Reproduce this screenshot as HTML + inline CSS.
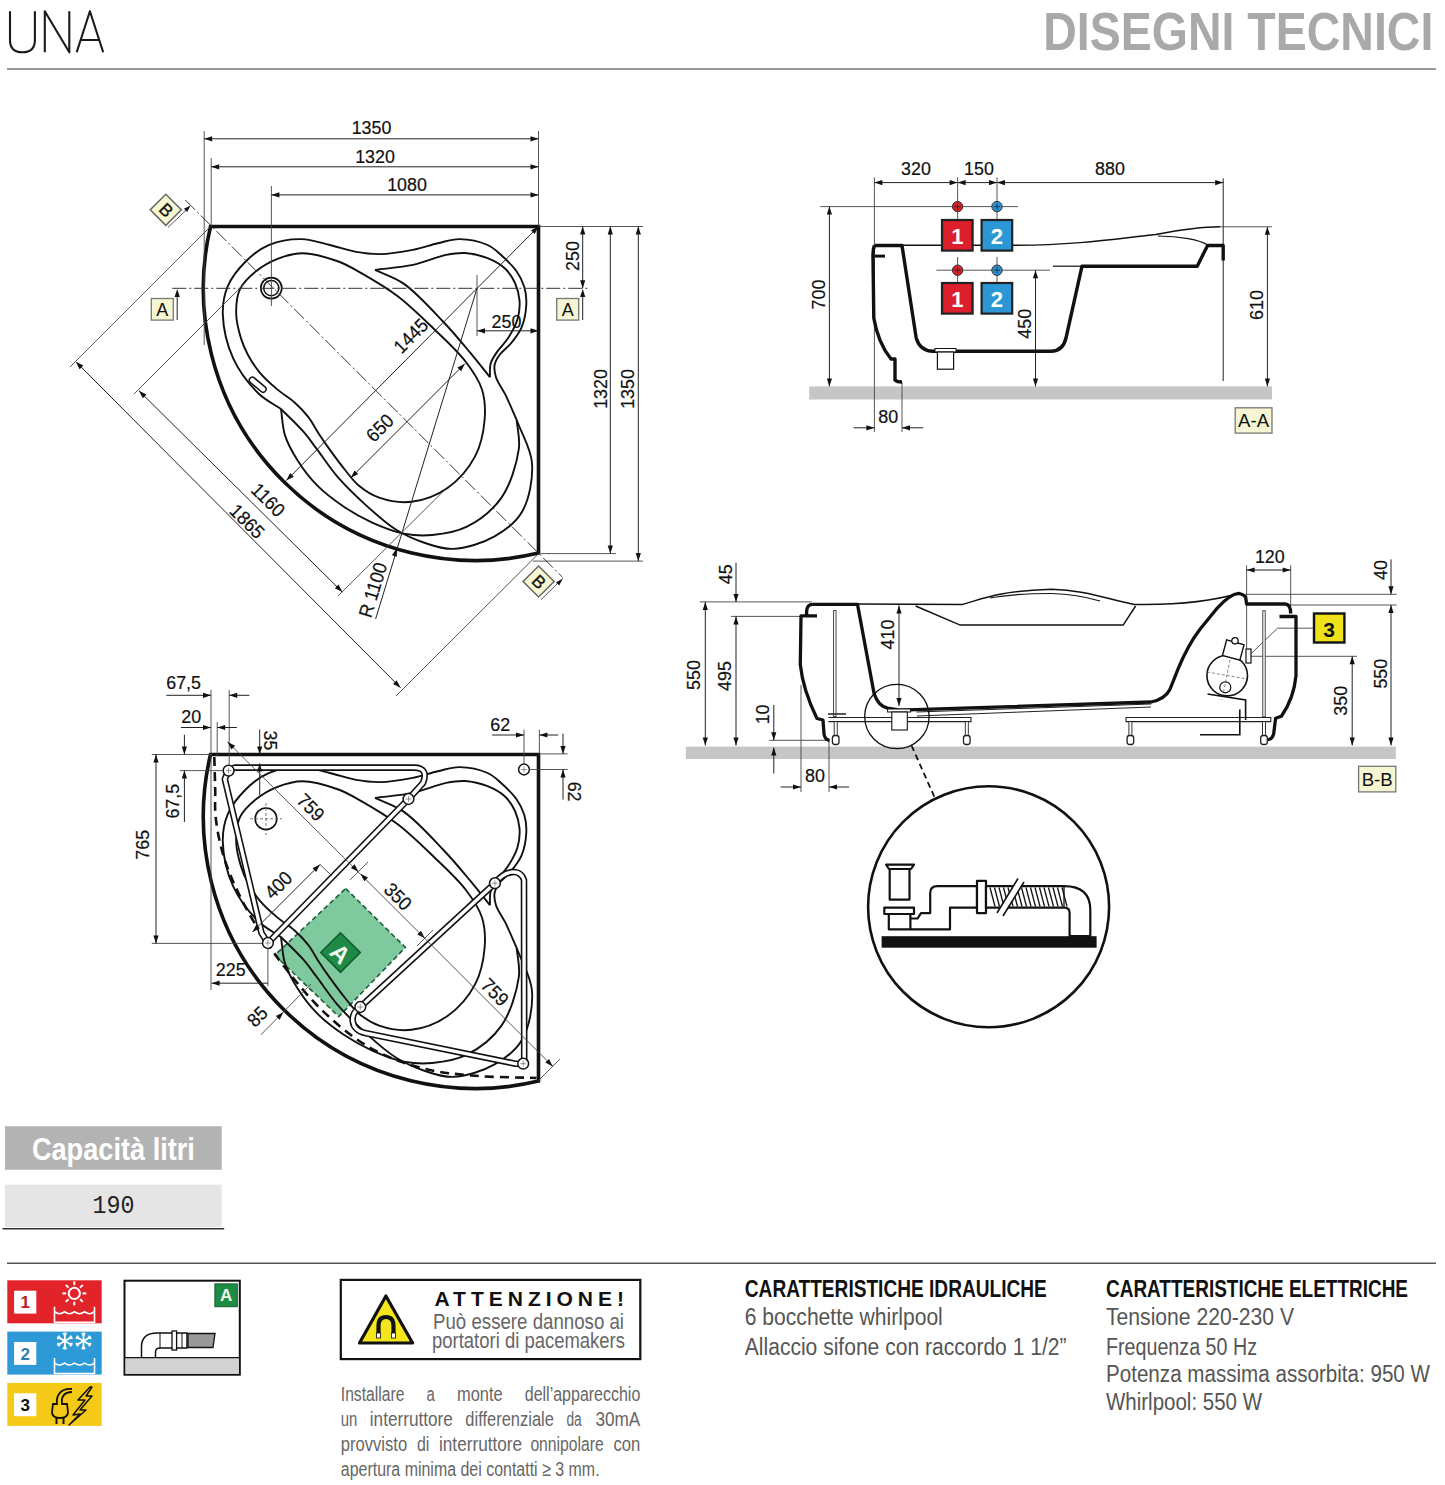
<!DOCTYPE html><html><head><meta charset="utf-8"><style>html,body{margin:0;padding:0;background:#fff;width:1445px;height:1485px;overflow:hidden;position:relative}</style></head><body><svg width="1445" height="1485" viewBox="0 0 1445 1485" style="position:absolute;left:0;top:0">
<rect width="1445" height="1485" fill="#fff"/>
<path d="M10,11.2 L10,40 Q10,52.3 22.45,52.3 Q34.9,52.3 34.9,40 L34.9,11.2 M44.8,52.3 L44.8,11.2 L69.3,52.3 L69.3,11.2 M76.7,52.3 L89.9,11.2 L103.2,52.3 M80.6,40 L99.3,40" fill="none" stroke="#1a1a1a" stroke-width="2.1" stroke-linejoin="round"/>
<text x="1433.3" y="31.3" font-family="Liberation Sans" font-size="54" fill="#a9a9a9" font-weight="bold" text-anchor="end" dominant-baseline="central" textLength="390" lengthAdjust="spacingAndGlyphs" >DISEGNI TECNICI</text>
<line x1="7.0" y1="69.0" x2="1436.0" y2="69.0" stroke="#777" stroke-width="1.6" />
<path d="M538.5,226.5 L210.5,226.5 A272.0,272.0 0 0 0 538.5,553.1 Z" fill="none" stroke="#111" stroke-width="3.6" stroke-linejoin="miter"/>
<path d="M516.7,420.0 C512.9,411.6 509.1,402.3 505.4,394.7 C502.2,388.3 497.7,382.7 496.0,377.2 C494.7,372.9 493.9,368.8 494.6,365.0 C495.3,361.2 497.5,357.7 500.0,354.3 C502.8,350.5 507.4,347.7 510.8,343.5 C514.6,338.8 519.0,333.4 521.6,327.3 C524.4,320.6 526.0,311.6 526.3,304.5 C526.6,298.3 526.0,292.6 524.3,287.0 C522.6,281.3 519.9,276.0 516.2,270.8 C512.0,264.9 505.2,258.6 500.0,254.0 C495.8,250.3 492.9,247.3 487.6,245.0 C480.4,241.8 468.2,239.2 459.4,239.1 C451.7,239.0 445.2,241.6 437.8,243.3 C429.8,245.1 421.9,248.2 412.9,249.9 C402.7,251.9 390.0,254.0 379.7,254.1 C370.8,254.2 363.0,253.1 354.8,251.6 C346.4,250.1 338.4,247.0 329.8,245.0 C320.7,242.9 311.3,239.2 301.6,239.1 C291.2,238.9 278.7,240.9 269.2,244.9 C260.3,248.6 252.5,254.7 245.7,261.5 C238.6,268.5 231.5,277.4 227.7,286.4 C224.1,295.0 222.5,303.8 222.8,314.1 C223.2,327.2 227.1,345.0 233.2,358.4 C239.2,371.5 249.8,385.0 258.8,393.8 C265.9,400.7 273.6,403.9 281.0,409.0" fill="none" stroke="#111" stroke-width="1.9" />
<path d="M281.0,409.0 C288.3,416.4 296.7,424.0 303.0,431.2 C308.4,437.3 311.8,442.5 316.9,449.2 C323.1,457.4 329.8,467.9 337.6,476.9 C345.9,486.4 355.6,495.8 365.3,504.6 C375.0,513.4 385.3,522.9 395.8,529.5 C405.3,535.4 415.2,539.7 425.0,543.0 C434.3,546.1 442.8,549.3 453.0,548.9 C465.6,548.4 482.8,543.1 494.6,536.4 C505.5,530.2 516.0,522.5 522.2,511.5 C529.4,498.9 533.1,478.5 532.0,463.0 C530.9,448.1 521.8,434.3 516.7,420.0" fill="none" stroke="#111" stroke-width="1.9" />
<path d="M281.0,409.0 C282.3,417.8 282.3,426.9 285.0,435.4 C287.7,444.0 292.4,452.2 297.5,460.3 C302.9,468.9 309.3,477.6 316.9,485.2 C324.9,493.3 335.1,500.9 344.6,507.3 C353.6,513.3 362.5,518.3 372.2,522.6 C382.2,527.1 393.6,531.6 404.0,533.6 C413.6,535.5 422.5,535.9 432.3,535.0 C443.3,534.0 456.0,532.2 466.9,526.7 C479.2,520.5 492.9,509.9 501.5,497.6 C510.6,484.5 516.8,463.5 518.8,449.2 C520.3,438.4 517.4,429.7 516.7,420.0" fill="none" stroke="#111" stroke-width="1.9" />
<path d="M375.0,269.9 C387.6,268.2 400.8,267.5 412.9,264.9 C424.4,262.4 436.5,256.8 446.1,254.9 C453.2,253.5 458.5,252.6 465.0,253.0 C472.2,253.5 480.8,255.5 487.6,258.2 C494.0,260.8 500.4,264.2 505.0,268.5 C509.3,272.5 512.6,277.7 515.0,283.0 C517.4,288.3 519.1,294.4 519.5,300.4 C520.0,306.5 519.3,313.2 517.5,319.3 C515.6,325.8 511.7,332.5 508.1,338.1 C504.9,343.2 500.3,347.1 497.3,351.6 C494.6,355.6 491.8,359.4 490.6,363.7 C489.4,367.9 490.1,372.7 489.9,377.2" fill="none" stroke="#111" stroke-width="1.9" />
<path d="M489.9,377.2 C483.4,369.1 477.5,361.4 470.4,352.9 C462.2,343.1 453.6,332.6 443.5,322.0 C431.7,309.6 416.5,292.5 403.6,283.6 C393.8,276.8 384.5,274.5 375.0,269.9" fill="none" stroke="#111" stroke-width="1.9" />
<path d="M302.4,253.2 C313.3,253.2 328.1,257.8 338.4,261.5 C346.7,264.5 351.9,267.8 360.0,272.4 C370.9,278.6 385.3,286.8 397.4,296.0 C410.3,305.8 423.0,318.4 434.7,329.7 C445.8,340.4 457.7,351.2 465.9,362.0 C472.8,371.1 478.9,379.7 482.0,389.5 C485.0,399.1 485.5,409.5 484.6,420.0 C483.6,431.6 481.0,445.1 475.2,456.1 C469.0,467.9 458.4,480.3 447.5,488.0 C437.1,495.3 423.4,500.4 411.5,501.8 C400.6,503.1 388.5,500.8 379.2,497.6 C371.2,494.8 364.2,490.1 358.4,485.2 C353.1,480.7 349.6,475.6 345.1,470.0 C339.9,463.6 333.9,455.4 329.2,448.9 C325.3,443.5 322.2,438.9 318.8,433.7 C315.3,428.3 312.4,422.3 308.4,417.1 C304.3,411.9 299.7,407.0 294.6,402.5 C289.3,397.8 282.9,394.2 277.3,389.4 C271.4,384.4 265.0,378.7 260.0,372.8 C255.3,367.2 251.2,361.0 248.0,355.0 C245.0,349.5 242.9,344.6 241.0,338.4 C238.8,331.2 236.4,322.3 236.2,314.2 C236.0,306.0 236.6,296.4 240.0,289.2 C243.3,282.1 249.8,276.2 256.0,271.2 C262.3,266.1 269.8,261.8 277.5,258.8 C285.3,255.8 293.3,253.2 302.4,253.2Z" fill="none" stroke="#111" stroke-width="1.9" />
<circle cx="271.3" cy="288.1" r="10.5" fill="#fff" stroke="#111" stroke-width="1.7"/>
<circle cx="271.3" cy="288.1" r="7.6" fill="none" stroke="#111" stroke-width="1.5"/>
<rect x="-10" y="-3" width="20" height="6" rx="3" fill="none" stroke="#111" stroke-width="1.5" transform="translate(257.7,384.7) rotate(40)"/>
<line x1="204.2" y1="131.0" x2="204.2" y2="345.0" stroke="#444" stroke-width="0.9" />
<line x1="211.2" y1="158.0" x2="211.2" y2="226.0" stroke="#444" stroke-width="0.9" />
<line x1="271.4" y1="186.0" x2="271.4" y2="306.0" stroke="#444" stroke-width="0.9" />
<line x1="538.5" y1="131.0" x2="538.5" y2="226.0" stroke="#444" stroke-width="0.9" />
<line x1="204.2" y1="138.8" x2="538.5" y2="138.8" stroke="#222" stroke-width="1.0" />
<path d="M204.2,138.8 L212.2,136.2 L212.2,141.4Z" fill="#111"/>
<path d="M538.5,138.8 L530.5,141.4 L530.5,136.2Z" fill="#111"/>
<line x1="211.2" y1="166.8" x2="538.5" y2="166.8" stroke="#222" stroke-width="1.0" />
<path d="M211.2,166.8 L219.2,164.2 L219.2,169.4Z" fill="#111"/>
<path d="M538.5,166.8 L530.5,169.4 L530.5,164.2Z" fill="#111"/>
<line x1="271.4" y1="194.9" x2="538.5" y2="194.9" stroke="#222" stroke-width="1.0" />
<path d="M271.4,194.9 L279.4,192.3 L279.4,197.5Z" fill="#111"/>
<path d="M538.5,194.9 L530.5,197.5 L530.5,192.3Z" fill="#111"/>
<text x="371.5" y="127.5" font-family="Liberation Sans" font-size="19.2" fill="#111" font-weight="normal" text-anchor="middle" dominant-baseline="central" textLength="39.7" lengthAdjust="spacingAndGlyphs" stroke="#111" stroke-width="0.2">1350</text>
<text x="375.0" y="156.0" font-family="Liberation Sans" font-size="19.2" fill="#111" font-weight="normal" text-anchor="middle" dominant-baseline="central" textLength="39.7" lengthAdjust="spacingAndGlyphs" stroke="#111" stroke-width="0.2">1320</text>
<text x="407.0" y="184.0" font-family="Liberation Sans" font-size="19.2" fill="#111" font-weight="normal" text-anchor="middle" dominant-baseline="central" textLength="39.7" lengthAdjust="spacingAndGlyphs" stroke="#111" stroke-width="0.2">1080</text>
<line x1="538.5" y1="226.5" x2="643.0" y2="226.5" stroke="#444" stroke-width="0.9" />
<line x1="538.5" y1="553.6" x2="616.0" y2="553.6" stroke="#444" stroke-width="0.9" />
<line x1="533.0" y1="561.1" x2="643.0" y2="561.1" stroke="#444" stroke-width="0.9" />
<line x1="582.7" y1="226.5" x2="582.7" y2="288.3" stroke="#222" stroke-width="1.0" />
<path d="M582.7,226.5 L585.3,234.5 L580.1,234.5Z" fill="#111"/>
<path d="M582.7,288.3 L580.1,280.3 L585.3,280.3Z" fill="#111"/>
<line x1="610.3" y1="226.5" x2="610.3" y2="553.6" stroke="#222" stroke-width="1.0" />
<path d="M610.3,226.5 L612.9,234.5 L607.7,234.5Z" fill="#111"/>
<path d="M610.3,553.6 L607.7,545.6 L612.9,545.6Z" fill="#111"/>
<line x1="638.3" y1="226.5" x2="638.3" y2="561.1" stroke="#222" stroke-width="1.0" />
<path d="M638.3,226.5 L640.9,234.5 L635.7,234.5Z" fill="#111"/>
<path d="M638.3,561.1 L635.7,553.1 L640.9,553.1Z" fill="#111"/>
<text x="572.0" y="256.0" font-family="Liberation Sans" font-size="19.2" fill="#111" font-weight="normal" text-anchor="middle" dominant-baseline="central" transform="rotate(-90 572.0 256.0)" textLength="29.8" lengthAdjust="spacingAndGlyphs" stroke="#111" stroke-width="0.2">250</text>
<text x="600.0" y="389.0" font-family="Liberation Sans" font-size="19.2" fill="#111" font-weight="normal" text-anchor="middle" dominant-baseline="central" transform="rotate(-90 600.0 389.0)" textLength="39.7" lengthAdjust="spacingAndGlyphs" stroke="#111" stroke-width="0.2">1320</text>
<text x="627.0" y="389.0" font-family="Liberation Sans" font-size="19.2" fill="#111" font-weight="normal" text-anchor="middle" dominant-baseline="central" transform="rotate(-90 627.0 389.0)" textLength="39.7" lengthAdjust="spacingAndGlyphs" stroke="#111" stroke-width="0.2">1350</text>
<line x1="172.3" y1="288.3" x2="588.0" y2="288.3" stroke="#333" stroke-width="1.0" stroke-dasharray="14 3 2 3"/>
<rect x="151.3" y="298.5" width="22" height="21.6" fill="#f6f6d2" stroke="#777" stroke-width="1.3"/>
<text x="162.3" y="310.0" font-family="Liberation Sans" font-size="18" fill="#111" font-weight="normal" text-anchor="middle" dominant-baseline="central" >A</text>
<line x1="177.2" y1="320.0" x2="177.2" y2="296.0" stroke="#222" stroke-width="1.0" />
<path d="M177.2,289.0 L179.8,297.0 L174.6,297.0Z" fill="#111"/>
<rect x="556.7" y="298.5" width="22" height="21.6" fill="#f6f6d2" stroke="#777" stroke-width="1.3"/>
<text x="567.7" y="310.0" font-family="Liberation Sans" font-size="18" fill="#111" font-weight="normal" text-anchor="middle" dominant-baseline="central" >A</text>
<line x1="582.7" y1="320.0" x2="582.7" y2="296.0" stroke="#222" stroke-width="1.0" />
<path d="M582.7,289.0 L585.3,297.0 L580.1,297.0Z" fill="#111"/>
<line x1="477.0" y1="275.0" x2="477.0" y2="336.0" stroke="#444" stroke-width="0.9" />
<line x1="477.0" y1="330.8" x2="538.5" y2="330.8" stroke="#222" stroke-width="1.0" />
<path d="M477.0,330.8 L485.0,328.2 L485.0,333.4Z" fill="#111"/>
<path d="M538.5,330.8 L530.5,333.4 L530.5,328.2Z" fill="#111"/>
<text x="506.5" y="321.0" font-family="Liberation Sans" font-size="19.2" fill="#111" font-weight="normal" text-anchor="middle" dominant-baseline="central" textLength="29.8" lengthAdjust="spacingAndGlyphs" stroke="#111" stroke-width="0.2">250</text>
<line x1="286.3" y1="480.5" x2="538.5" y2="226.5" stroke="#222" stroke-width="1.0" />
<path d="M538.5,226.5 L534.7,234.0 L531.0,230.3Z" fill="#111"/>
<path d="M286.3,480.5 L290.1,473.0 L293.8,476.7Z" fill="#111"/>
<text x="411.0" y="336.0" font-family="Liberation Sans" font-size="19.2" fill="#111" font-weight="normal" text-anchor="middle" dominant-baseline="central" transform="rotate(-45 411.0 336.0)" textLength="39.7" lengthAdjust="spacingAndGlyphs" stroke="#111" stroke-width="0.2">1445</text>
<line x1="350.7" y1="477.9" x2="464.9" y2="363.7" stroke="#222" stroke-width="1.0" />
<path d="M350.7,477.9 L354.5,470.4 L358.2,474.1Z" fill="#111"/>
<path d="M464.9,363.7 L461.1,371.2 L457.4,367.5Z" fill="#111"/>
<text x="380.0" y="428.0" font-family="Liberation Sans" font-size="19.2" fill="#111" font-weight="normal" text-anchor="middle" dominant-baseline="central" transform="rotate(-45 380.0 428.0)" textLength="29.8" lengthAdjust="spacingAndGlyphs" stroke="#111" stroke-width="0.2">650</text>
<line x1="477.0" y1="288.3" x2="375.6" y2="619.0" stroke="#222" stroke-width="1.0" />
<path d="M396.8,548.3 L396.9,556.8 L391.9,555.2Z" fill="#111"/>
<text x="373.0" y="590.0" font-family="Liberation Sans" font-size="19.2" fill="#111" font-weight="normal" text-anchor="middle" dominant-baseline="central" transform="rotate(-73 373.0 590.0)" textLength="56.3" lengthAdjust="spacingAndGlyphs" stroke="#111" stroke-width="0.2">R 1100</text>
<line x1="210.5" y1="226.5" x2="70.0" y2="367.0" stroke="#444" stroke-width="0.9" />
<line x1="538.3" y1="554.0" x2="396.0" y2="696.0" stroke="#444" stroke-width="0.9" />
<line x1="75.8" y1="361.7" x2="400.5" y2="687.7" stroke="#222" stroke-width="1.0" />
<path d="M75.8,361.7 L83.3,365.5 L79.6,369.2Z" fill="#111"/>
<path d="M400.5,687.7 L393.0,683.9 L396.7,680.2Z" fill="#111"/>
<text x="247.0" y="521.5" font-family="Liberation Sans" font-size="19.2" fill="#111" font-weight="normal" text-anchor="middle" dominant-baseline="central" transform="rotate(45 247.0 521.5)" textLength="39.7" lengthAdjust="spacingAndGlyphs" stroke="#111" stroke-width="0.2">1865</text>
<line x1="246.0" y1="282.0" x2="134.0" y2="394.0" stroke="#444" stroke-width="0.9" />
<line x1="447.3" y1="487.3" x2="338.0" y2="596.0" stroke="#444" stroke-width="0.9" />
<line x1="138.9" y1="390.7" x2="342.4" y2="592.1" stroke="#222" stroke-width="1.0" />
<path d="M138.9,390.7 L146.4,394.5 L142.8,398.2Z" fill="#111"/>
<path d="M342.4,592.1 L334.9,588.3 L338.5,584.6Z" fill="#111"/>
<text x="268.0" y="500.0" font-family="Liberation Sans" font-size="19.2" fill="#111" font-weight="normal" text-anchor="middle" dominant-baseline="central" transform="rotate(45 268.0 500.0)" textLength="38.4" lengthAdjust="spacingAndGlyphs" stroke="#111" stroke-width="0.2">1160</text>
<line x1="185.3" y1="200.0" x2="562.5" y2="577.2" stroke="#333" stroke-width="1.0" stroke-dasharray="14 3 2 3"/>
<rect x="-11" y="-11" width="22" height="22" fill="#f6f6d2" stroke="#666" stroke-width="1.5" transform="translate(165.8,209.8) rotate(45)"/>
<text x="166.1" y="210.1" font-family="Liberation Sans" font-size="17.5" fill="#111" font-weight="normal" text-anchor="middle" dominant-baseline="central" transform="rotate(45 166.1 210.1)" stroke="#111" stroke-width="0.3">B</text>
<line x1="168.0" y1="227.4" x2="189.6" y2="206.9" stroke="#444" stroke-width="0.9" />
<path d="M190.5,205.5 L187.2,212.1 L183.9,208.8Z" fill="#111"/>
<rect x="-11" y="-11" width="22" height="22" fill="#f6f6d2" stroke="#666" stroke-width="1.5" transform="translate(538.6,581.5) rotate(45)"/>
<text x="538.9" y="581.8" font-family="Liberation Sans" font-size="17.5" fill="#111" font-weight="normal" text-anchor="middle" dominant-baseline="central" transform="rotate(45 538.9 581.8)" stroke="#111" stroke-width="0.3">B</text>
<line x1="541.0" y1="599.7" x2="563.0" y2="578.1" stroke="#444" stroke-width="0.9" />
<path d="M562.5,579.0 L559.2,585.6 L555.9,582.3Z" fill="#111"/>
<path d="M345.7,888.5 L405.4,947.4 L338.8,1016.6 L274.8,955.2Z" fill="#6cc190" fill-opacity="0.88" stroke="#1d5e35" stroke-width="1.6" stroke-dasharray="5 3"/>
<g transform="translate(340.5,952.6) rotate(45)"><rect x="-14" y="-14" width="28" height="28" fill="#1f8a45" stroke="#0d5a28" stroke-width="1.5"/></g>
<text x="340.5" y="953.5" font-family="Liberation Sans" font-size="24" fill="#eef8ee" font-weight="bold" text-anchor="middle" dominant-baseline="central" transform="rotate(45 340.5 953.5)" >A</text>
<path d="M538.5,754.5 L210.5,754.5 A272.0,272.0 0 0 0 538.5,1081.1 Z" fill="none" stroke="#111" stroke-width="3.6" stroke-linejoin="miter"/>
<path d="M516.7,948.0 C512.9,939.6 509.1,930.3 505.4,922.7 C502.2,916.3 497.7,910.7 496.0,905.2 C494.7,900.9 493.9,896.8 494.6,893.0 C495.3,889.2 497.5,885.7 500.0,882.3 C502.8,878.5 507.4,875.7 510.8,871.5 C514.6,866.8 519.0,861.4 521.6,855.3 C524.4,848.6 526.0,839.6 526.3,832.5 C526.6,826.3 526.0,820.6 524.3,815.0 C522.6,809.3 519.9,804.0 516.2,798.8 C512.0,792.9 505.2,786.6 500.0,782.0 C495.8,778.3 492.9,775.3 487.6,773.0 C480.4,769.8 468.2,767.2 459.4,767.1 C451.7,767.0 445.2,769.6 437.8,771.3 C429.8,773.1 421.9,776.2 412.9,777.9 C402.7,779.9 390.0,782.0 379.7,782.1 C370.8,782.2 363.0,781.1 354.8,779.6 C346.4,778.1 338.4,775.0 329.8,773.0 C320.7,770.9 311.3,767.2 301.6,767.1 C291.2,766.9 278.7,768.9 269.2,772.9 C260.3,776.6 252.5,782.7 245.7,789.5 C238.6,796.5 231.5,805.4 227.7,814.4 C224.1,823.0 222.5,831.8 222.8,842.1 C223.2,855.2 227.1,873.0 233.2,886.4 C239.2,899.5 249.8,913.0 258.8,921.8 C265.9,928.7 273.6,931.9 281.0,937.0" fill="none" stroke="#111" stroke-width="1.9" />
<path d="M281.0,937.0 C288.3,944.4 296.7,952.0 303.0,959.2 C308.4,965.3 311.8,970.5 316.9,977.2 C323.1,985.4 329.8,995.9 337.6,1004.9 C345.9,1014.4 355.6,1023.8 365.3,1032.6 C375.0,1041.4 385.3,1050.9 395.8,1057.5 C405.3,1063.4 415.2,1067.7 425.0,1071.0 C434.3,1074.1 442.8,1077.3 453.0,1076.9 C465.6,1076.4 482.8,1071.1 494.6,1064.4 C505.5,1058.2 516.0,1050.5 522.2,1039.5 C529.4,1026.9 533.1,1006.5 532.0,991.0 C530.9,976.1 521.8,962.3 516.7,948.0" fill="none" stroke="#111" stroke-width="1.9" />
<path d="M281.0,937.0 C282.3,945.8 282.3,954.9 285.0,963.4 C287.7,972.0 292.4,980.2 297.5,988.3 C302.9,996.9 309.3,1005.6 316.9,1013.2 C324.9,1021.3 335.1,1028.9 344.6,1035.3 C353.6,1041.3 362.5,1046.3 372.2,1050.6 C382.2,1055.1 393.6,1059.6 404.0,1061.6 C413.6,1063.5 422.5,1063.9 432.3,1063.0 C443.3,1062.0 456.0,1060.2 466.9,1054.7 C479.2,1048.5 492.9,1037.9 501.5,1025.6 C510.6,1012.5 516.8,991.5 518.8,977.2 C520.3,966.4 517.4,957.7 516.7,948.0" fill="none" stroke="#111" stroke-width="1.9" />
<path d="M375.0,797.9 C387.6,796.2 400.8,795.5 412.9,792.9 C424.4,790.4 436.5,784.8 446.1,782.9 C453.2,781.5 458.5,780.6 465.0,781.0 C472.2,781.5 480.8,783.5 487.6,786.2 C494.0,788.8 500.4,792.2 505.0,796.5 C509.3,800.5 512.6,805.7 515.0,811.0 C517.4,816.3 519.1,822.4 519.5,828.4 C520.0,834.5 519.3,841.2 517.5,847.3 C515.6,853.8 511.7,860.5 508.1,866.1 C504.9,871.2 500.3,875.1 497.3,879.6 C494.6,883.6 491.8,887.4 490.6,891.7 C489.4,895.9 490.1,900.7 489.9,905.2" fill="none" stroke="#111" stroke-width="1.9" />
<path d="M489.9,905.2 C483.4,897.1 477.5,889.4 470.4,880.9 C462.2,871.1 453.6,860.6 443.5,850.0 C431.7,837.6 416.5,820.5 403.6,811.6 C393.8,804.8 384.5,802.5 375.0,797.9" fill="none" stroke="#111" stroke-width="1.9" />
<path d="M302.4,781.2 C313.3,781.2 328.1,785.8 338.4,789.5 C346.7,792.5 351.9,795.8 360.0,800.4 C370.9,806.6 385.3,814.8 397.4,824.0 C410.3,833.8 423.0,846.4 434.7,857.7 C445.8,868.4 457.7,879.2 465.9,890.0 C472.8,899.1 478.9,907.7 482.0,917.5 C485.0,927.1 485.5,937.5 484.6,948.0 C483.6,959.6 481.0,973.1 475.2,984.1 C469.0,995.9 458.4,1008.3 447.5,1016.0 C437.1,1023.3 423.4,1028.4 411.5,1029.8 C400.6,1031.1 388.5,1028.8 379.2,1025.6 C371.2,1022.8 364.2,1018.1 358.4,1013.2 C353.1,1008.7 349.6,1003.6 345.1,998.0 C339.9,991.6 333.9,983.4 329.2,976.9 C325.3,971.5 322.2,966.9 318.8,961.7 C315.3,956.3 312.4,950.3 308.4,945.1 C304.3,939.9 299.7,935.0 294.6,930.5 C289.3,925.8 282.9,922.2 277.3,917.4 C271.4,912.4 265.0,906.7 260.0,900.8 C255.3,895.2 251.2,889.0 248.0,883.0 C245.0,877.5 242.9,872.6 241.0,866.4 C238.8,859.2 236.4,850.3 236.2,842.2 C236.0,834.0 236.6,824.4 240.0,817.2 C243.3,810.1 249.8,804.2 256.0,799.2 C262.3,794.1 269.8,789.8 277.5,786.8 C285.3,783.8 293.3,781.2 302.4,781.2Z" fill="none" stroke="#111" stroke-width="1.9" />
<circle cx="266" cy="818.8" r="10.8" fill="#fff" stroke="#111" stroke-width="1.6"/>
<line x1="250.0" y1="818.8" x2="282.0" y2="818.8" stroke="#555" stroke-width="0.8" stroke-dasharray="3 2"/>
<line x1="266.0" y1="803.0" x2="266.0" y2="835.0" stroke="#555" stroke-width="0.8" stroke-dasharray="3 2"/>
<path d="M214.3,757.0 C214.6,768.0 215.0,779.6 215.2,790.0 C215.4,799.4 214.6,807.1 215.6,816.8 C216.9,828.5 219.5,842.6 223.3,855.2 C227.2,868.2 232.6,880.8 238.7,893.6 C245.2,907.3 253.5,921.6 261.7,934.6 C269.7,947.2 277.7,958.4 287.3,970.5 C298.0,984.0 309.8,998.8 323.2,1011.4 C337.1,1024.5 352.8,1037.8 369.3,1047.3 C385.3,1056.5 403.2,1063.1 420.5,1067.8 C437.3,1072.4 453.6,1073.8 471.7,1075.5 C492.0,1077.4 514.9,1077.2 536.5,1078.0" fill="none" stroke="#111" stroke-width="2.6" stroke-dasharray="9 6"/>
<path d="M228.6,770.6 L234.6,767.6 L414,767.6 C424,767.6 427,773 423,783 L408.5,799.0" fill="none" stroke="#111" stroke-width="6.6" stroke-linejoin="round"/>
<path d="M408.5,799.0 L267.9,943.0" fill="none" stroke="#111" stroke-width="6.6" stroke-linejoin="round"/>
<path d="M228.6,770.6 L224.8,779 L261.5,933 L267.9,943.0" fill="none" stroke="#111" stroke-width="6.6" stroke-linejoin="round"/>
<path d="M494.9,883.2 L360.3,1007.0" fill="none" stroke="#111" stroke-width="6.6" stroke-linejoin="round"/>
<path d="M494.9,883.2 C505,870 520,868 524,880 L524.2,1059.7 L523.2,1063.7" fill="none" stroke="#111" stroke-width="6.6" stroke-linejoin="round"/>
<path d="M360.3,1007.0 C349,1014 350,1030 365,1033 L515.2,1063.7 L523.2,1063.7" fill="none" stroke="#111" stroke-width="6.6" stroke-linejoin="round"/>
<path d="M228.6,770.6 L234.6,767.6 L414,767.6 C424,767.6 427,773 423,783 L408.5,799.0" fill="none" stroke="#fff" stroke-width="3.4" stroke-linejoin="round"/>
<path d="M408.5,799.0 L267.9,943.0" fill="none" stroke="#fff" stroke-width="3.4" stroke-linejoin="round"/>
<path d="M228.6,770.6 L224.8,779 L261.5,933 L267.9,943.0" fill="none" stroke="#fff" stroke-width="3.4" stroke-linejoin="round"/>
<path d="M494.9,883.2 L360.3,1007.0" fill="none" stroke="#fff" stroke-width="3.4" stroke-linejoin="round"/>
<path d="M494.9,883.2 C505,870 520,868 524,880 L524.2,1059.7 L523.2,1063.7" fill="none" stroke="#fff" stroke-width="3.4" stroke-linejoin="round"/>
<path d="M360.3,1007.0 C349,1014 350,1030 365,1033 L515.2,1063.7 L523.2,1063.7" fill="none" stroke="#fff" stroke-width="3.4" stroke-linejoin="round"/>
<circle cx="228.6" cy="770.6" r="5.4" fill="#fff" stroke="#111" stroke-width="1.5"/>
<line x1="225.6" y1="770.6" x2="231.6" y2="770.6" stroke="#555" stroke-width="0.6" />
<line x1="228.6" y1="767.6" x2="228.6" y2="773.6" stroke="#555" stroke-width="0.6" />
<circle cx="408.5" cy="799.0" r="5.4" fill="#fff" stroke="#111" stroke-width="1.5"/>
<line x1="405.5" y1="799.0" x2="411.5" y2="799.0" stroke="#555" stroke-width="0.6" />
<line x1="408.5" y1="796.0" x2="408.5" y2="802.0" stroke="#555" stroke-width="0.6" />
<circle cx="267.9" cy="943.0" r="5.4" fill="#fff" stroke="#111" stroke-width="1.5"/>
<line x1="264.9" y1="943.0" x2="270.9" y2="943.0" stroke="#555" stroke-width="0.6" />
<line x1="267.9" y1="940.0" x2="267.9" y2="946.0" stroke="#555" stroke-width="0.6" />
<circle cx="360.3" cy="1007.0" r="5.4" fill="#fff" stroke="#111" stroke-width="1.5"/>
<line x1="357.3" y1="1007.0" x2="363.3" y2="1007.0" stroke="#555" stroke-width="0.6" />
<line x1="360.3" y1="1004.0" x2="360.3" y2="1010.0" stroke="#555" stroke-width="0.6" />
<circle cx="523.2" cy="1063.7" r="5.4" fill="#fff" stroke="#111" stroke-width="1.5"/>
<line x1="520.2" y1="1063.7" x2="526.2" y2="1063.7" stroke="#555" stroke-width="0.6" />
<line x1="523.2" y1="1060.7" x2="523.2" y2="1066.7" stroke="#555" stroke-width="0.6" />
<circle cx="524" cy="769.5" r="5.4" fill="#fff" stroke="#111" stroke-width="1.5"/>
<line x1="521.0" y1="769.5" x2="527.0" y2="769.5" stroke="#555" stroke-width="0.6" />
<line x1="524.0" y1="766.5" x2="524.0" y2="772.5" stroke="#555" stroke-width="0.6" />
<circle cx="494.9" cy="883.2" r="5.4" fill="#fff" stroke="#111" stroke-width="1.5"/>
<line x1="491.9" y1="883.2" x2="497.9" y2="883.2" stroke="#555" stroke-width="0.6" />
<line x1="494.9" y1="880.2" x2="494.9" y2="886.2" stroke="#555" stroke-width="0.6" />
<line x1="211.0" y1="690.0" x2="211.0" y2="990.0" stroke="#444" stroke-width="0.9" />
<line x1="229.2" y1="690.0" x2="229.2" y2="766.0" stroke="#444" stroke-width="0.9" />
<line x1="166.3" y1="695.3" x2="211.0" y2="695.3" stroke="#222" stroke-width="1.0" />
<path d="M211.0,695.3 L203.0,697.9 L203.0,692.7Z" fill="#111"/>
<line x1="249.4" y1="695.3" x2="229.2" y2="695.3" stroke="#222" stroke-width="1.0" />
<path d="M229.2,695.3 L237.2,692.7 L237.2,697.9Z" fill="#111"/>
<text x="183.6" y="682.4" font-family="Liberation Sans" font-size="19.2" fill="#111" font-weight="normal" text-anchor="middle" dominant-baseline="central" textLength="34.8" lengthAdjust="spacingAndGlyphs" stroke="#111" stroke-width="0.2">67,5</text>
<line x1="217.2" y1="722.0" x2="217.2" y2="756.0" stroke="#444" stroke-width="0.9" />
<line x1="180.9" y1="727.5" x2="211.0" y2="727.5" stroke="#222" stroke-width="1.0" />
<path d="M211.0,727.5 L203.0,730.1 L203.0,724.9Z" fill="#111"/>
<line x1="236.9" y1="727.5" x2="217.2" y2="727.5" stroke="#222" stroke-width="1.0" />
<path d="M217.2,727.5 L225.2,724.9 L225.2,730.1Z" fill="#111"/>
<text x="191.2" y="716.0" font-family="Liberation Sans" font-size="19.2" fill="#111" font-weight="normal" text-anchor="middle" dominant-baseline="central" textLength="19.9" lengthAdjust="spacingAndGlyphs" stroke="#111" stroke-width="0.2">20</text>
<line x1="259.7" y1="729.5" x2="259.7" y2="754.5" stroke="#222" stroke-width="1.0" />
<path d="M259.7,754.5 L257.1,746.5 L262.3,746.5Z" fill="#111"/>
<line x1="259.7" y1="795.0" x2="259.7" y2="763.5" stroke="#222" stroke-width="1.0" />
<path d="M259.7,763.5 L262.3,771.5 L257.1,771.5Z" fill="#111"/>
<text x="270.5" y="740.5" font-family="Liberation Sans" font-size="19.2" fill="#111" font-weight="normal" text-anchor="middle" dominant-baseline="central" transform="rotate(90 270.5 740.5)" textLength="19.9" lengthAdjust="spacingAndGlyphs" stroke="#111" stroke-width="0.2">35</text>
<line x1="179.8" y1="770.6" x2="223.0" y2="770.6" stroke="#444" stroke-width="0.9" />
<line x1="184.4" y1="734.7" x2="184.4" y2="754.5" stroke="#222" stroke-width="1.0" />
<path d="M184.4,754.5 L181.8,746.5 L187.0,746.5Z" fill="#111"/>
<line x1="184.4" y1="822.0" x2="184.4" y2="770.6" stroke="#222" stroke-width="1.0" />
<path d="M184.4,770.6 L187.0,778.6 L181.8,778.6Z" fill="#111"/>
<text x="172.6" y="801.2" font-family="Liberation Sans" font-size="19.2" fill="#111" font-weight="normal" text-anchor="middle" dominant-baseline="central" transform="rotate(-90 172.6 801.2)" textLength="34.8" lengthAdjust="spacingAndGlyphs" stroke="#111" stroke-width="0.2">67,5</text>
<line x1="151.8" y1="754.5" x2="211.0" y2="754.5" stroke="#444" stroke-width="0.9" />
<line x1="151.8" y1="943.4" x2="262.0" y2="943.4" stroke="#444" stroke-width="0.9" />
<line x1="156.0" y1="754.5" x2="156.0" y2="943.4" stroke="#222" stroke-width="1.0" />
<path d="M156.0,754.5 L158.6,762.5 L153.4,762.5Z" fill="#111"/>
<path d="M156.0,943.4 L153.4,935.4 L158.6,935.4Z" fill="#111"/>
<text x="142.5" y="844.8" font-family="Liberation Sans" font-size="19.2" fill="#111" font-weight="normal" text-anchor="middle" dominant-baseline="central" transform="rotate(-90 142.5 844.8)" textLength="29.8" lengthAdjust="spacingAndGlyphs" stroke="#111" stroke-width="0.2">765</text>
<line x1="227.6" y1="742.0" x2="424.8" y2="938.2" stroke="#444" stroke-width="0.9" />
<path d="M227.6,742.0 L235.1,745.8 L231.4,749.5Z" fill="#111"/>
<path d="M358.4,871.7 L350.9,867.9 L354.6,864.2Z" fill="#111"/>
<path d="M360.5,873.8 L368.0,877.6 L364.3,881.3Z" fill="#111"/>
<path d="M424.8,938.2 L417.3,934.4 L421.0,930.7Z" fill="#111"/>
<line x1="350.0" y1="880.0" x2="368.0" y2="862.0" stroke="#444" stroke-width="0.9" />
<line x1="417.0" y1="946.0" x2="433.0" y2="930.0" stroke="#444" stroke-width="0.9" />
<text x="310.6" y="807.4" font-family="Liberation Sans" font-size="19.2" fill="#111" font-weight="normal" text-anchor="middle" dominant-baseline="central" transform="rotate(45 310.6 807.4)" textLength="29.8" lengthAdjust="spacingAndGlyphs" stroke="#111" stroke-width="0.2">759</text>
<text x="397.8" y="896.7" font-family="Liberation Sans" font-size="19.2" fill="#111" font-weight="normal" text-anchor="middle" dominant-baseline="central" transform="rotate(45 397.8 896.7)" textLength="29.8" lengthAdjust="spacingAndGlyphs" stroke="#111" stroke-width="0.2">350</text>
<line x1="320.0" y1="864.5" x2="252.5" y2="932.0" stroke="#222" stroke-width="1.0" />
<path d="M320.0,864.5 L316.2,872.0 L312.5,868.3Z" fill="#111"/>
<path d="M252.5,932.0 L256.3,924.5 L260.0,928.2Z" fill="#111"/>
<line x1="320.0" y1="864.5" x2="332.0" y2="876.0" stroke="#444" stroke-width="0.9" />
<text x="278.4" y="885.2" font-family="Liberation Sans" font-size="19.2" fill="#111" font-weight="normal" text-anchor="middle" dominant-baseline="central" transform="rotate(-45 278.4 885.2)" textLength="29.8" lengthAdjust="spacingAndGlyphs" stroke="#111" stroke-width="0.2">400</text>
<line x1="267.9" y1="948.0" x2="267.9" y2="986.0" stroke="#444" stroke-width="0.9" />
<line x1="211.6" y1="983.2" x2="267.9" y2="983.2" stroke="#222" stroke-width="1.0" />
<path d="M211.6,983.2 L219.6,980.6 L219.6,985.8Z" fill="#111"/>
<text x="230.7" y="969.0" font-family="Liberation Sans" font-size="19.2" fill="#111" font-weight="normal" text-anchor="middle" dominant-baseline="central" textLength="29.8" lengthAdjust="spacingAndGlyphs" stroke="#111" stroke-width="0.2">225</text>
<line x1="261.0" y1="1034.7" x2="311.0" y2="984.0" stroke="#444" stroke-width="0.9" />
<path d="M283.4,1012.2 L279.6,1019.7 L275.9,1016.0Z" fill="#111"/>
<text x="257.5" y="1016.6" font-family="Liberation Sans" font-size="19.2" fill="#111" font-weight="normal" text-anchor="middle" dominant-baseline="central" transform="rotate(-45 257.5 1016.6)" textLength="19.9" lengthAdjust="spacingAndGlyphs" stroke="#111" stroke-width="0.2">85</text>
<line x1="524.0" y1="729.6" x2="524.0" y2="764.0" stroke="#444" stroke-width="0.9" />
<line x1="539.4" y1="729.6" x2="539.4" y2="754.0" stroke="#444" stroke-width="0.9" />
<line x1="492.2" y1="735.0" x2="524.0" y2="735.0" stroke="#222" stroke-width="1.0" />
<path d="M524.0,735.0 L516.0,737.6 L516.0,732.4Z" fill="#111"/>
<line x1="558.2" y1="735.0" x2="539.4" y2="735.0" stroke="#222" stroke-width="1.0" />
<path d="M539.4,735.0 L547.4,732.4 L547.4,737.6Z" fill="#111"/>
<text x="500.3" y="724.2" font-family="Liberation Sans" font-size="19.2" fill="#111" font-weight="normal" text-anchor="middle" dominant-baseline="central" textLength="19.9" lengthAdjust="spacingAndGlyphs" stroke="#111" stroke-width="0.2">62</text>
<line x1="539.4" y1="753.9" x2="567.6" y2="753.9" stroke="#444" stroke-width="0.9" />
<line x1="529.0" y1="769.5" x2="567.6" y2="769.5" stroke="#444" stroke-width="0.9" />
<line x1="563.0" y1="733.7" x2="563.0" y2="753.9" stroke="#222" stroke-width="1.0" />
<path d="M563.0,753.9 L560.4,745.9 L565.6,745.9Z" fill="#111"/>
<line x1="563.0" y1="799.7" x2="563.0" y2="769.5" stroke="#222" stroke-width="1.0" />
<path d="M563.0,769.5 L565.6,777.5 L560.4,777.5Z" fill="#111"/>
<text x="574.4" y="791.6" font-family="Liberation Sans" font-size="19.2" fill="#111" font-weight="normal" text-anchor="middle" dominant-baseline="central" transform="rotate(90 574.4 791.6)" textLength="19.9" lengthAdjust="spacingAndGlyphs" stroke="#111" stroke-width="0.2">62</text>
<line x1="420.8" y1="934.4" x2="552.8" y2="1066.4" stroke="#444" stroke-width="0.9" />
<path d="M552.8,1066.4 L545.3,1062.6 L549.0,1058.9Z" fill="#111"/>
<line x1="538.0" y1="1081.0" x2="560.0" y2="1059.0" stroke="#444" stroke-width="0.9" />
<text x="494.9" y="992.3" font-family="Liberation Sans" font-size="19.2" fill="#111" font-weight="normal" text-anchor="middle" dominant-baseline="central" transform="rotate(45 494.9 992.3)" textLength="29.8" lengthAdjust="spacingAndGlyphs" stroke="#111" stroke-width="0.2">759</text>
<rect x="809.2" y="386.4" width="462.8" height="13.1" fill="#c6c6c6"/>
<line x1="820.3" y1="206.6" x2="1018.0" y2="206.6" stroke="#444" stroke-width="0.9" />
<line x1="829.4" y1="206.6" x2="829.4" y2="386.4" stroke="#222" stroke-width="1.0" />
<path d="M829.4,206.6 L832.0,214.6 L826.8,214.6Z" fill="#111"/>
<path d="M829.4,386.4 L826.8,378.4 L832.0,378.4Z" fill="#111"/>
<text x="818.3" y="294.5" font-family="Liberation Sans" font-size="19.2" fill="#111" font-weight="normal" text-anchor="middle" dominant-baseline="central" transform="rotate(-90 818.3 294.5)" textLength="29.8" lengthAdjust="spacingAndGlyphs" stroke="#111" stroke-width="0.2">700</text>
<line x1="874.4" y1="177.4" x2="874.4" y2="432.0" stroke="#444" stroke-width="0.9" />
<line x1="1223.2" y1="178.4" x2="1223.2" y2="381.0" stroke="#222" stroke-width="1.0" />
<line x1="874.4" y1="182.6" x2="957.6" y2="182.6" stroke="#222" stroke-width="1.0" />
<path d="M874.4,182.6 L882.4,180.0 L882.4,185.2Z" fill="#111"/>
<path d="M957.6,182.6 L949.6,185.2 L949.6,180.0Z" fill="#111"/>
<line x1="957.6" y1="182.6" x2="997.0" y2="182.6" stroke="#222" stroke-width="1.0" />
<path d="M957.6,182.6 L965.6,180.0 L965.6,185.2Z" fill="#111"/>
<path d="M997.0,182.6 L989.0,185.2 L989.0,180.0Z" fill="#111"/>
<line x1="997.0" y1="182.6" x2="1223.2" y2="182.6" stroke="#222" stroke-width="1.0" />
<path d="M997.0,182.6 L1005.0,180.0 L1005.0,185.2Z" fill="#111"/>
<path d="M1223.2,182.6 L1215.2,185.2 L1215.2,180.0Z" fill="#111"/>
<text x="916.0" y="168.5" font-family="Liberation Sans" font-size="19.2" fill="#111" font-weight="normal" text-anchor="middle" dominant-baseline="central" textLength="29.8" lengthAdjust="spacingAndGlyphs" stroke="#111" stroke-width="0.2">320</text>
<text x="979.0" y="168.5" font-family="Liberation Sans" font-size="19.2" fill="#111" font-weight="normal" text-anchor="middle" dominant-baseline="central" textLength="29.8" lengthAdjust="spacingAndGlyphs" stroke="#111" stroke-width="0.2">150</text>
<text x="1110.0" y="168.5" font-family="Liberation Sans" font-size="19.2" fill="#111" font-weight="normal" text-anchor="middle" dominant-baseline="central" textLength="29.8" lengthAdjust="spacingAndGlyphs" stroke="#111" stroke-width="0.2">880</text>
<line x1="957.6" y1="177.4" x2="957.6" y2="220.0" stroke="#444" stroke-width="0.9" />
<line x1="957.6" y1="257.0" x2="957.6" y2="283.0" stroke="#444" stroke-width="0.9" />
<line x1="997.0" y1="177.4" x2="997.0" y2="220.0" stroke="#444" stroke-width="0.9" />
<line x1="997.0" y1="257.0" x2="997.0" y2="283.0" stroke="#444" stroke-width="0.9" />
<line x1="936.4" y1="270.2" x2="1050.0" y2="270.2" stroke="#444" stroke-width="0.9" />
<line x1="1035.5" y1="270.2" x2="1035.5" y2="386.4" stroke="#222" stroke-width="1.0" />
<path d="M1035.5,270.2 L1038.1,278.2 L1032.9,278.2Z" fill="#111"/>
<path d="M1035.5,386.4 L1032.9,378.4 L1038.1,378.4Z" fill="#111"/>
<text x="1024.2" y="323.8" font-family="Liberation Sans" font-size="19.2" fill="#111" font-weight="normal" text-anchor="middle" dominant-baseline="central" transform="rotate(-90 1024.2 323.8)" textLength="29.8" lengthAdjust="spacingAndGlyphs" stroke="#111" stroke-width="0.2">450</text>
<line x1="1220.0" y1="226.8" x2="1272.0" y2="226.8" stroke="#444" stroke-width="0.9" />
<line x1="1267.4" y1="226.8" x2="1267.4" y2="386.4" stroke="#222" stroke-width="1.0" />
<path d="M1267.4,226.8 L1270.0,234.8 L1264.8,234.8Z" fill="#111"/>
<path d="M1267.4,386.4 L1264.8,378.4 L1270.0,378.4Z" fill="#111"/>
<text x="1256.4" y="305.0" font-family="Liberation Sans" font-size="19.2" fill="#111" font-weight="normal" text-anchor="middle" dominant-baseline="central" transform="rotate(-90 1256.4 305.0)" textLength="29.8" lengthAdjust="spacingAndGlyphs" stroke="#111" stroke-width="0.2">610</text>
<line x1="902.0" y1="382.0" x2="902.0" y2="432.0" stroke="#444" stroke-width="0.9" />
<line x1="853.6" y1="427.8" x2="874.4" y2="427.8" stroke="#222" stroke-width="1.0" />
<path d="M874.4,427.8 L866.4,430.4 L866.4,425.2Z" fill="#111"/>
<line x1="923.3" y1="427.8" x2="902.0" y2="427.8" stroke="#222" stroke-width="1.0" />
<path d="M902.0,427.8 L910.0,425.2 L910.0,430.4Z" fill="#111"/>
<text x="888.3" y="416.6" font-family="Liberation Sans" font-size="19.2" fill="#111" font-weight="normal" text-anchor="middle" dominant-baseline="central" textLength="19.9" lengthAdjust="spacingAndGlyphs" stroke="#111" stroke-width="0.2">80</text>
<rect x="1235.2" y="407.8" width="36.8" height="25.3" fill="#f6f6d2" stroke="#777" stroke-width="1.3"/>
<text x="1253.6" y="421.0" font-family="Liberation Sans" font-size="18" fill="#111" font-weight="normal" text-anchor="middle" dominant-baseline="central" textLength="31" lengthAdjust="spacingAndGlyphs" >A-A</text>
<path d="M874.4,245.5 L902,245.5 L916.2,338 Q920,351 933,351.3 L1051,351.3 Q1063,351 1066,338 L1082,266.2 L1197.2,266.2 L1207.6,245.5 L1223.2,245.5 L1223.2,260.4" fill="none" stroke="#111" stroke-width="3.4" stroke-linejoin="round"/>
<path d="M874.4,245.5 Q872.6,250 873,258 L873.8,318 Q878,343 891,359 L895,359 L895,380 Q897,382 902,382" fill="none" stroke="#111" stroke-width="3.4" stroke-linejoin="round"/>
<line x1="874.4" y1="256.1" x2="885.0" y2="256.1" stroke="#111" stroke-width="3.0" />
<line x1="1052.9" y1="266.2" x2="1082.0" y2="266.2" stroke="#111" stroke-width="1.2" />
<path d="M902,245.3 L1012.5,245.3 C1083,245 1120,238 1155.7,234.5 C1185,229 1205,226.8 1220,226.8" fill="none" stroke="#111" stroke-width="1.4"/>
<path d="M1157.8,236 C1180,236 1200,240 1207.6,245" fill="none" stroke="#111" stroke-width="1.2"/>
<rect x="935" y="348.5" width="21" height="3.5" fill="#fff" stroke="#111" stroke-width="1"/>
<rect x="937.4" y="352" width="16.2" height="17.2" fill="#fff" stroke="#111" stroke-width="1.2"/>
<circle cx="957.6" cy="206.6" r="5.2" fill="#d4202a" stroke="#333" stroke-width="1"/>
<line x1="954.6" y1="206.6" x2="960.6" y2="206.6" stroke="#222" stroke-width="0.8" />
<line x1="957.6" y1="203.6" x2="957.6" y2="209.6" stroke="#222" stroke-width="0.8" />
<circle cx="997" cy="206.6" r="5.2" fill="#2a8fd0" stroke="#333" stroke-width="1"/>
<line x1="994.0" y1="206.6" x2="1000.0" y2="206.6" stroke="#222" stroke-width="0.8" />
<line x1="997.0" y1="203.6" x2="997.0" y2="209.6" stroke="#222" stroke-width="0.8" />
<circle cx="957.6" cy="270.2" r="5.2" fill="#d4202a" stroke="#333" stroke-width="1"/>
<line x1="954.6" y1="270.2" x2="960.6" y2="270.2" stroke="#222" stroke-width="0.8" />
<line x1="957.6" y1="267.2" x2="957.6" y2="273.2" stroke="#222" stroke-width="0.8" />
<circle cx="997" cy="270.2" r="5.2" fill="#2a8fd0" stroke="#333" stroke-width="1"/>
<line x1="994.0" y1="270.2" x2="1000.0" y2="270.2" stroke="#222" stroke-width="0.8" />
<line x1="997.0" y1="267.2" x2="997.0" y2="273.2" stroke="#222" stroke-width="0.8" />
<rect x="942" y="220" width="30.6" height="30.6" fill="#dc1f2b" stroke="#222" stroke-width="2.2"/>
<text x="957.3" y="236.3" font-family="Liberation Sans" font-size="22" fill="#fff" font-weight="bold" text-anchor="middle" dominant-baseline="central" >1</text>
<rect x="981.6" y="220" width="30.6" height="30.6" fill="#2b97d6" stroke="#222" stroke-width="2.2"/>
<text x="996.9" y="236.3" font-family="Liberation Sans" font-size="22" fill="#fff" font-weight="bold" text-anchor="middle" dominant-baseline="central" >2</text>
<rect x="942" y="283" width="30.6" height="30.6" fill="#dc1f2b" stroke="#222" stroke-width="2.2"/>
<text x="957.3" y="299.3" font-family="Liberation Sans" font-size="22" fill="#fff" font-weight="bold" text-anchor="middle" dominant-baseline="central" >1</text>
<rect x="981.6" y="283" width="30.6" height="30.6" fill="#2b97d6" stroke="#222" stroke-width="2.2"/>
<text x="996.9" y="299.3" font-family="Liberation Sans" font-size="22" fill="#fff" font-weight="bold" text-anchor="middle" dominant-baseline="central" >2</text>
<rect x="685.8" y="746.6" width="710" height="12.4" fill="#c6c6c6"/>
<line x1="699.7" y1="601.9" x2="812.0" y2="601.9" stroke="#444" stroke-width="0.9" />
<line x1="705.3" y1="601.9" x2="705.3" y2="745.5" stroke="#222" stroke-width="1.0" />
<path d="M705.3,601.9 L707.9,609.9 L702.7,609.9Z" fill="#111"/>
<path d="M705.3,745.5 L702.7,737.5 L707.9,737.5Z" fill="#111"/>
<text x="693.5" y="675.0" font-family="Liberation Sans" font-size="19.2" fill="#111" font-weight="normal" text-anchor="middle" dominant-baseline="central" transform="rotate(-90 693.5 675.0)" textLength="29.8" lengthAdjust="spacingAndGlyphs" stroke="#111" stroke-width="0.2">550</text>
<line x1="736.0" y1="562.8" x2="736.0" y2="601.9" stroke="#222" stroke-width="1.0" />
<path d="M736.0,601.9 L733.4,593.9 L738.6,593.9Z" fill="#111"/>
<text x="725.7" y="574.3" font-family="Liberation Sans" font-size="19.2" fill="#111" font-weight="normal" text-anchor="middle" dominant-baseline="central" transform="rotate(-90 725.7 574.3)" textLength="19.9" lengthAdjust="spacingAndGlyphs" stroke="#111" stroke-width="0.2">45</text>
<line x1="730.9" y1="616.4" x2="817.0" y2="616.4" stroke="#444" stroke-width="0.9" />
<line x1="736.0" y1="616.4" x2="736.0" y2="745.5" stroke="#222" stroke-width="1.0" />
<path d="M736.0,616.4 L738.6,624.4 L733.4,624.4Z" fill="#111"/>
<path d="M736.0,745.5 L733.4,737.5 L738.6,737.5Z" fill="#111"/>
<text x="724.6" y="676.0" font-family="Liberation Sans" font-size="19.2" fill="#111" font-weight="normal" text-anchor="middle" dominant-baseline="central" transform="rotate(-90 724.6 676.0)" textLength="29.8" lengthAdjust="spacingAndGlyphs" stroke="#111" stroke-width="0.2">495</text>
<line x1="769.3" y1="740.3" x2="826.0" y2="740.3" stroke="#444" stroke-width="0.9" />
<line x1="773.8" y1="705.0" x2="773.8" y2="740.3" stroke="#222" stroke-width="1.0" />
<path d="M773.8,740.3 L771.2,732.3 L776.4,732.3Z" fill="#111"/>
<line x1="773.8" y1="773.5" x2="773.8" y2="747.6" stroke="#222" stroke-width="1.0" />
<path d="M773.8,747.6 L776.4,755.6 L771.2,755.6Z" fill="#111"/>
<text x="763.0" y="714.4" font-family="Liberation Sans" font-size="19.2" fill="#111" font-weight="normal" text-anchor="middle" dominant-baseline="central" transform="rotate(-90 763.0 714.4)" textLength="19.9" lengthAdjust="spacingAndGlyphs" stroke="#111" stroke-width="0.2">10</text>
<line x1="801.0" y1="685.0" x2="801.0" y2="792.0" stroke="#444" stroke-width="0.9" />
<line x1="829.0" y1="739.0" x2="829.0" y2="792.0" stroke="#444" stroke-width="0.9" />
<line x1="780.7" y1="787.0" x2="801.0" y2="787.0" stroke="#222" stroke-width="1.0" />
<path d="M801.0,787.0 L793.0,789.6 L793.0,784.4Z" fill="#111"/>
<line x1="849.2" y1="787.0" x2="829.0" y2="787.0" stroke="#222" stroke-width="1.0" />
<path d="M829.0,787.0 L837.0,784.4 L837.0,789.6Z" fill="#111"/>
<text x="815.0" y="775.6" font-family="Liberation Sans" font-size="19.2" fill="#111" font-weight="normal" text-anchor="middle" dominant-baseline="central" textLength="19.9" lengthAdjust="spacingAndGlyphs" stroke="#111" stroke-width="0.2">80</text>
<line x1="899.0" y1="605.4" x2="899.0" y2="706.0" stroke="#222" stroke-width="1.0" />
<path d="M899.0,605.4 L901.6,613.4 L896.4,613.4Z" fill="#111"/>
<path d="M899.0,706.0 L896.4,698.0 L901.6,698.0Z" fill="#111"/>
<text x="887.6" y="634.5" font-family="Liberation Sans" font-size="19.2" fill="#111" font-weight="normal" text-anchor="middle" dominant-baseline="central" transform="rotate(-90 887.6 634.5)" textLength="29.8" lengthAdjust="spacingAndGlyphs" stroke="#111" stroke-width="0.2">410</text>
<line x1="1246.6" y1="565.2" x2="1246.6" y2="650.0" stroke="#444" stroke-width="0.9" />
<line x1="1290.7" y1="565.2" x2="1290.7" y2="606.0" stroke="#444" stroke-width="0.9" />
<line x1="1246.6" y1="570.0" x2="1290.7" y2="570.0" stroke="#222" stroke-width="1.0" />
<path d="M1246.6,570.0 L1254.6,567.4 L1254.6,572.6Z" fill="#111"/>
<path d="M1290.7,570.0 L1282.7,572.6 L1282.7,567.4Z" fill="#111"/>
<text x="1269.8" y="556.5" font-family="Liberation Sans" font-size="19.2" fill="#111" font-weight="normal" text-anchor="middle" dominant-baseline="central" textLength="29.8" lengthAdjust="spacingAndGlyphs" stroke="#111" stroke-width="0.2">120</text>
<line x1="1391.0" y1="559.4" x2="1391.0" y2="594.3" stroke="#222" stroke-width="1.0" />
<path d="M1391.0,594.3 L1388.4,586.3 L1393.6,586.3Z" fill="#111"/>
<text x="1380.3" y="570.0" font-family="Liberation Sans" font-size="19.2" fill="#111" font-weight="normal" text-anchor="middle" dominant-baseline="central" transform="rotate(-90 1380.3 570.0)" textLength="19.9" lengthAdjust="spacingAndGlyphs" stroke="#111" stroke-width="0.2">40</text>
<line x1="1244.6" y1="594.3" x2="1396.7" y2="594.3" stroke="#444" stroke-width="0.9" />
<line x1="1290.0" y1="605.0" x2="1396.7" y2="605.0" stroke="#444" stroke-width="0.9" />
<line x1="1391.0" y1="605.0" x2="1391.0" y2="745.4" stroke="#222" stroke-width="1.0" />
<path d="M1391.0,605.0 L1393.6,613.0 L1388.4,613.0Z" fill="#111"/>
<path d="M1391.0,745.4 L1388.4,737.4 L1393.6,737.4Z" fill="#111"/>
<text x="1380.3" y="673.7" font-family="Liberation Sans" font-size="19.2" fill="#111" font-weight="normal" text-anchor="middle" dominant-baseline="central" transform="rotate(-90 1380.3 673.7)" textLength="29.8" lengthAdjust="spacingAndGlyphs" stroke="#111" stroke-width="0.2">550</text>
<line x1="1248.5" y1="656.3" x2="1357.0" y2="656.3" stroke="#444" stroke-width="0.9" />
<line x1="1352.2" y1="656.3" x2="1352.2" y2="745.4" stroke="#222" stroke-width="1.0" />
<path d="M1352.2,656.3 L1354.8,664.3 L1349.6,664.3Z" fill="#111"/>
<path d="M1352.2,745.4 L1349.6,737.4 L1354.8,737.4Z" fill="#111"/>
<text x="1340.5" y="700.8" font-family="Liberation Sans" font-size="19.2" fill="#111" font-weight="normal" text-anchor="middle" dominant-baseline="central" transform="rotate(-90 1340.5 700.8)" textLength="29.8" lengthAdjust="spacingAndGlyphs" stroke="#111" stroke-width="0.2">350</text>
<rect x="1358.6" y="766.3" width="37.2" height="25.6" fill="#f6f6d2" stroke="#777" stroke-width="1.3"/>
<text x="1377.2" y="779.5" font-family="Liberation Sans" font-size="18" fill="#111" font-weight="normal" text-anchor="middle" dominant-baseline="central" textLength="31" lengthAdjust="spacingAndGlyphs" >B-B</text>
<rect x="1314" y="613.5" width="30.4" height="29" fill="#efe21a" stroke="#111" stroke-width="2.4"/>
<text x="1329.2" y="629.0" font-family="Liberation Sans" font-size="21" fill="#111" font-weight="bold" text-anchor="middle" dominant-baseline="central" >3</text>
<path d="M1313.8,628.2 L1277.6,628.2 L1250.4,654.3" fill="none" stroke="#444" stroke-width="0.9" stroke-linejoin="round" />
<path d="M812.9,604.4 L857.5,604.4 L874.1,693.6 Q878,706 887.6,708.2 L900,710.2 L1151.2,702 Q1165,699 1169.9,689.5 L1178.2,668.7 Q1188,645 1200,629.3 L1217.5,607.8 Q1230,594 1238.8,593.3 Q1243,594 1245.6,597 L1246.6,604 L1285,604 Q1290.7,604 1290.7,613.6" fill="none" stroke="#111" stroke-width="3.3" stroke-linejoin="round"/>
<path d="M817,615.8 L801,615.8 L800.3,664.6 Q803,690 817,718.5 L823,720 L824,734 Q825,740 829.5,740.3" fill="none" stroke="#111" stroke-width="3.3" stroke-linejoin="round"/>
<path d="M812.9,604.4 Q806.6,604.4 806.6,612 L806.6,615.8" fill="none" stroke="#111" stroke-width="3.3"/>
<path d="M1279.5,616.5 L1296,616.5 L1296,675.6 Q1294,698 1281.4,716.3 L1275.6,718.3 L1273.7,733.8 Q1272,739.6 1267.9,739.6" fill="none" stroke="#111" stroke-width="3.3" stroke-linejoin="round"/>
<path d="M857.5,604 L962.3,604.4 C980,600 995,591 1051.5,589.2 C1085,590 1110,600 1134.6,604.4 C1170,605 1210,602 1238.8,593.3" fill="none" stroke="#111" stroke-width="1.5"/>
<path d="M990,598 C1010,594 1030,593.5 1051.5,593.5 C1075,594 1090,598 1100,601" fill="none" stroke="#111" stroke-width="1.2"/>
<path d="M915.6,606 L960.2,625.1 L1123.2,625.1 L1135.6,606" fill="none" stroke="#111" stroke-width="1.5"/>
<rect x="833.6" y="610.6" width="2.4" height="106" fill="#fff" stroke="#333" stroke-width="0.9"/>
<path d="M828.4,717.5 L971,717.5 L971,721.6 L828.4,721.6 M1126,717.5 L1270.8,717.5 L1270.8,721.6 L1126,721.6 Z" fill="#fff" stroke="#222" stroke-width="1.1"/>
<path d="M916.6,712 L1151.2,704 M917,716 L1151,707" stroke="#222" stroke-width="1.0"/>
<rect x="834.2" y="721.6" width="3" height="14" fill="#fff" stroke="#222" stroke-width="0.9"/>
<rect x="832.4000000000001" y="735.5" width="6.6" height="9" rx="2.5" fill="#fff" stroke="#222" stroke-width="1.3"/>
<rect x="965.3" y="721.6" width="3" height="14" fill="#fff" stroke="#222" stroke-width="0.9"/>
<rect x="963.5" y="735.5" width="6.6" height="9" rx="2.5" fill="#fff" stroke="#222" stroke-width="1.3"/>
<rect x="1128.9" y="721.6" width="3" height="14" fill="#fff" stroke="#222" stroke-width="0.9"/>
<rect x="1127.1000000000001" y="735.5" width="6.6" height="9" rx="2.5" fill="#fff" stroke="#222" stroke-width="1.3"/>
<rect x="1262.5" y="721.6" width="3" height="14" fill="#fff" stroke="#222" stroke-width="0.9"/>
<rect x="1260.7" y="735.5" width="6.6" height="9" rx="2.5" fill="#fff" stroke="#222" stroke-width="1.3"/>
<rect x="1262.8" y="610.7" width="2.4" height="106" fill="#fff" stroke="#333" stroke-width="0.9"/>
<path d="M828,714 L846,714" stroke="#222" stroke-width="1.5"/>
<circle cx="896.9" cy="716.5" r="32.2" fill="none" stroke="#111" stroke-width="1.3"/>
<rect x="887.6" y="709" width="23" height="3" fill="#fff" stroke="#111" stroke-width="1"/>
<rect x="891.8" y="712" width="15.5" height="18" fill="#fff" stroke="#111" stroke-width="1.1"/>
<line x1="911.5" y1="745.5" x2="938.0" y2="805.0" stroke="#111" stroke-width="1.8" stroke-dasharray="6 4"/>
<circle cx="1227.2" cy="675.6" r="20.3" fill="#fff" stroke="#111" stroke-width="1.6"/>
<circle cx="1225.3" cy="687.3" r="5.5" fill="none" stroke="#111" stroke-width="1.2"/>
<line x1="1207.0" y1="672.0" x2="1247.0" y2="679.0" stroke="#555" stroke-width="0.7" stroke-dasharray="3 2"/>
<line x1="1232.0" y1="650.0" x2="1222.0" y2="700.0" stroke="#555" stroke-width="0.7" stroke-dasharray="3 2"/>
<rect x="-9" y="-9" width="18" height="16" fill="#fff" stroke="#111" stroke-width="1.4" transform="translate(1233,651) rotate(15)"/>
<circle cx="1235" cy="640.8" r="3.2" fill="#fff" stroke="#111" stroke-width="1.3"/>
<rect x="1246" y="649" width="5" height="14" fill="#fff" stroke="#111" stroke-width="1.2"/>
<path d="M1207.5,694 L1245.6,700 L1245.6,720" fill="none" stroke="#111" stroke-width="1.6"/>
<path d="M1200,734.7 L1239.8,734.7 L1239.8,709.5" fill="none" stroke="#111" stroke-width="1.6"/>
<circle cx="988.6" cy="906.8" r="120.5" fill="#fff" stroke="#111" stroke-width="2.6"/>
<rect x="881.6" y="936.2" width="215" height="11.5" fill="#111"/>
<path d="M886.1,864.6 L914,864.6 L911,869 L889,869Z" fill="#fff" stroke="#111" stroke-width="2.2" stroke-linejoin="round"/>
<rect x="889.7" y="869" width="19.8" height="30.6" fill="#fff" stroke="#111" stroke-width="2.2" stroke-linejoin="round"/>
<path d="M910.4,929.3 L950,929.3 L950,907.7 L977,907.7 L977,886.2 L937.4,886.2 Q930.2,886.2 930.2,893 L930.2,913.1 L921,913.1 L917.6,918.5 L910.4,918.5" fill="#fff" stroke="#111" stroke-width="2.2" stroke-linejoin="round"/>
<rect x="888.8" y="914" width="21.6" height="15.3" fill="#fff" stroke="#111" stroke-width="2.2" stroke-linejoin="round"/>
<rect x="884.3" y="907.7" width="29.7" height="6.3" fill="#fff" stroke="#111" stroke-width="2.2" stroke-linejoin="round"/>
<rect x="977" y="880.8" width="9" height="32.3" fill="#fff" stroke="#111" stroke-width="2.2" stroke-linejoin="round"/>
<path d="M986,886.2 L1064.2,886.2 Q1090.3,886.2 1090.3,910 L1090.3,936.2 L1069.6,936.2 L1069.6,913 Q1069.6,907.7 1064.2,907.7 L986,907.7Z" fill="#fff" stroke="#111" stroke-width="2.2" stroke-linejoin="round"/>
<line x1="990.0" y1="887.5" x2="995.0" y2="906.5" stroke="#111" stroke-width="1.3" />
<line x1="994.5" y1="887.5" x2="999.5" y2="906.5" stroke="#111" stroke-width="1.3" />
<line x1="999.0" y1="887.5" x2="1004.0" y2="906.5" stroke="#111" stroke-width="1.3" />
<line x1="1003.5" y1="887.5" x2="1008.5" y2="906.5" stroke="#111" stroke-width="1.3" />
<line x1="1008.0" y1="887.5" x2="1013.0" y2="906.5" stroke="#111" stroke-width="1.3" />
<line x1="1012.5" y1="887.5" x2="1017.5" y2="906.5" stroke="#111" stroke-width="1.3" />
<line x1="1017.0" y1="887.5" x2="1022.0" y2="906.5" stroke="#111" stroke-width="1.3" />
<line x1="1021.5" y1="887.5" x2="1026.5" y2="906.5" stroke="#111" stroke-width="1.3" />
<line x1="1026.0" y1="887.5" x2="1031.0" y2="906.5" stroke="#111" stroke-width="1.3" />
<line x1="1030.5" y1="887.5" x2="1035.5" y2="906.5" stroke="#111" stroke-width="1.3" />
<line x1="1035.0" y1="887.5" x2="1040.0" y2="906.5" stroke="#111" stroke-width="1.3" />
<line x1="1039.5" y1="887.5" x2="1044.5" y2="906.5" stroke="#111" stroke-width="1.3" />
<line x1="1044.0" y1="887.5" x2="1049.0" y2="906.5" stroke="#111" stroke-width="1.3" />
<line x1="1048.5" y1="887.5" x2="1053.5" y2="906.5" stroke="#111" stroke-width="1.3" />
<line x1="1053.0" y1="887.5" x2="1058.0" y2="906.5" stroke="#111" stroke-width="1.3" />
<line x1="1057.5" y1="887.5" x2="1062.5" y2="906.5" stroke="#111" stroke-width="1.3" />
<line x1="1062.0" y1="887.5" x2="1067.0" y2="906.5" stroke="#111" stroke-width="1.3" />
<line x1="1064.0" y1="886.2" x2="1064.0" y2="907.7" stroke="#111" stroke-width="1.3" />
<path d="M997,912 L1018,878 L1024,881 L1003,915Z" fill="#fff" stroke="none"/>
<line x1="997.0" y1="913.0" x2="1018.0" y2="878.5" stroke="#111" stroke-width="1.6" />
<line x1="1003.0" y1="916.0" x2="1024.0" y2="882.0" stroke="#111" stroke-width="1.6" />
<rect x="5" y="1126.2" width="216.7" height="43.6" fill="#b3b3b3"/>
<text x="113.4" y="1149.0" font-family="Liberation Sans" font-size="31" fill="#fff" font-weight="bold" text-anchor="middle" dominant-baseline="central" textLength="163" lengthAdjust="spacingAndGlyphs" >Capacità litri</text>
<rect x="5" y="1184.7" width="216.7" height="42.3" fill="#e5e5e5"/>
<text x="113.4" y="1206.5" font-family="Liberation Mono" font-size="25" fill="#222" font-weight="normal" text-anchor="middle" dominant-baseline="central" textLength="42" lengthAdjust="spacingAndGlyphs" >190</text>
<line x1="2.5" y1="1228.8" x2="224.2" y2="1228.8" stroke="#333" stroke-width="1.6" />
<line x1="7.0" y1="1263.2" x2="1436.0" y2="1263.2" stroke="#555" stroke-width="1.6" />
<rect x="7.3" y="1280.3" width="94.4" height="43" fill="#e2232a"/>
<rect x="14.1" y="1290.7" width="22.2" height="22.9" fill="#fff"/>
<text x="25.2" y="1302.8" font-family="Liberation Sans" font-size="17" fill="#c01c22" font-weight="bold" text-anchor="middle" dominant-baseline="central" >1</text>
<rect x="7.3" y="1331.6" width="94.4" height="43" fill="#2d9ad7"/>
<rect x="14.1" y="1342.0" width="22.2" height="22.9" fill="#fff"/>
<text x="25.2" y="1354.1" font-family="Liberation Sans" font-size="17" fill="#2d7fb0" font-weight="bold" text-anchor="middle" dominant-baseline="central" >2</text>
<rect x="7.3" y="1382.9" width="94.4" height="43" fill="#f5c918"/>
<rect x="14.1" y="1393.3000000000002" width="22.2" height="22.9" fill="#fff"/>
<text x="25.2" y="1405.4" font-family="Liberation Sans" font-size="17" fill="#111" font-weight="bold" text-anchor="middle" dominant-baseline="central" >3</text>
<circle cx="74.3" cy="1293.4" r="5.6" fill="none" stroke="#fff" stroke-width="2"/>
<line x1="82.5" y1="1293.4" x2="86.3" y2="1293.4" stroke="#fff" stroke-width="2" />
<line x1="80.1" y1="1299.2" x2="82.8" y2="1301.9" stroke="#fff" stroke-width="2" />
<line x1="74.3" y1="1301.6" x2="74.3" y2="1305.4" stroke="#fff" stroke-width="2" />
<line x1="68.5" y1="1299.2" x2="65.8" y2="1301.9" stroke="#fff" stroke-width="2" />
<line x1="66.1" y1="1293.4" x2="62.3" y2="1293.4" stroke="#fff" stroke-width="2" />
<line x1="68.5" y1="1287.6" x2="65.8" y2="1284.9" stroke="#fff" stroke-width="2" />
<line x1="74.3" y1="1285.2" x2="74.3" y2="1281.4" stroke="#fff" stroke-width="2" />
<line x1="80.1" y1="1287.6" x2="82.8" y2="1284.9" stroke="#fff" stroke-width="2" />
<path d="M54.5,1306.7 L54.5,1322.2 L94.5,1322.2 L94.5,1306.7" fill="none" stroke="#fff" stroke-width="1.6"/>
<path d="M54.5,1311.7 q5,4 10,0 q5,4 10,0 q5,4 10,0 q5,4 10,0" fill="none" stroke="#fff" stroke-width="1.5"/>
<path d="M54.5,1358.0 L54.5,1373.5 L94.5,1373.5 L94.5,1358.0" fill="none" stroke="#fff" stroke-width="1.6"/>
<path d="M54.5,1363.0 q5,4 10,0 q5,4 10,0 q5,4 10,0 q5,4 10,0" fill="none" stroke="#fff" stroke-width="1.5"/>
<line x1="64.8" y1="1332.5" x2="64.8" y2="1349.5" stroke="#fff" stroke-width="1.8" />
<line x1="64.8" y1="1346.5" x2="63.1" y2="1349.0" stroke="#fff" stroke-width="1.4" />
<line x1="64.8" y1="1346.5" x2="66.5" y2="1349.0" stroke="#fff" stroke-width="1.4" />
<line x1="64.8" y1="1335.5" x2="66.5" y2="1333.0" stroke="#fff" stroke-width="1.4" />
<line x1="64.8" y1="1335.5" x2="63.1" y2="1333.0" stroke="#fff" stroke-width="1.4" />
<line x1="72.2" y1="1336.8" x2="57.4" y2="1345.2" stroke="#fff" stroke-width="1.8" />
<line x1="60.0" y1="1343.8" x2="57.0" y2="1343.5" stroke="#fff" stroke-width="1.4" />
<line x1="60.0" y1="1343.8" x2="58.7" y2="1346.5" stroke="#fff" stroke-width="1.4" />
<line x1="69.6" y1="1338.2" x2="72.6" y2="1338.5" stroke="#fff" stroke-width="1.4" />
<line x1="69.6" y1="1338.2" x2="70.9" y2="1335.5" stroke="#fff" stroke-width="1.4" />
<line x1="72.2" y1="1345.2" x2="57.4" y2="1336.8" stroke="#fff" stroke-width="1.8" />
<line x1="60.0" y1="1338.2" x2="58.7" y2="1335.5" stroke="#fff" stroke-width="1.4" />
<line x1="60.0" y1="1338.2" x2="57.0" y2="1338.5" stroke="#fff" stroke-width="1.4" />
<line x1="69.6" y1="1343.8" x2="70.9" y2="1346.5" stroke="#fff" stroke-width="1.4" />
<line x1="69.6" y1="1343.8" x2="72.6" y2="1343.5" stroke="#fff" stroke-width="1.4" />
<line x1="83.5" y1="1332.5" x2="83.5" y2="1349.5" stroke="#fff" stroke-width="1.8" />
<line x1="83.5" y1="1346.5" x2="81.8" y2="1349.0" stroke="#fff" stroke-width="1.4" />
<line x1="83.5" y1="1346.5" x2="85.2" y2="1349.0" stroke="#fff" stroke-width="1.4" />
<line x1="83.5" y1="1335.5" x2="85.2" y2="1333.0" stroke="#fff" stroke-width="1.4" />
<line x1="83.5" y1="1335.5" x2="81.8" y2="1333.0" stroke="#fff" stroke-width="1.4" />
<line x1="90.9" y1="1336.8" x2="76.1" y2="1345.2" stroke="#fff" stroke-width="1.8" />
<line x1="78.7" y1="1343.8" x2="75.7" y2="1343.5" stroke="#fff" stroke-width="1.4" />
<line x1="78.7" y1="1343.8" x2="77.4" y2="1346.5" stroke="#fff" stroke-width="1.4" />
<line x1="88.3" y1="1338.2" x2="91.3" y2="1338.5" stroke="#fff" stroke-width="1.4" />
<line x1="88.3" y1="1338.2" x2="89.6" y2="1335.5" stroke="#fff" stroke-width="1.4" />
<line x1="90.9" y1="1345.2" x2="76.1" y2="1336.8" stroke="#fff" stroke-width="1.8" />
<line x1="78.7" y1="1338.2" x2="77.4" y2="1335.5" stroke="#fff" stroke-width="1.4" />
<line x1="78.7" y1="1338.2" x2="75.7" y2="1338.5" stroke="#fff" stroke-width="1.4" />
<line x1="88.3" y1="1343.8" x2="89.6" y2="1346.5" stroke="#fff" stroke-width="1.4" />
<line x1="88.3" y1="1343.8" x2="91.3" y2="1343.5" stroke="#fff" stroke-width="1.4" />
<path d="M72,1389 C60,1388 56,1396 57,1404 L53,1404 L52,1412 Q52,1418 60,1418 Q68,1418 68,1412 L67,1404 L62,1404 C61,1397 64,1392 72,1392" fill="none" stroke="#111" stroke-width="1.8"/>
<line x1="56.5" y1="1418.0" x2="56.5" y2="1424.0" stroke="#111" stroke-width="2" />
<line x1="63.5" y1="1418.0" x2="63.5" y2="1424.0" stroke="#111" stroke-width="2" />
<path d="M90,1387 L78,1400 L85,1400 L73,1415 L80,1414 L69,1425 L86,1410 L80,1410 L92,1396 L86,1396 L92,1387Z" fill="none" stroke="#111" stroke-width="1.5" stroke-linejoin="round"/>
<rect x="124.5" y="1280.7" width="115.3" height="94" fill="#fff" stroke="#111" stroke-width="2"/>
<rect x="125.5" y="1357.6" width="113.3" height="16.2" fill="#d2d2d2"/>
<line x1="124.5" y1="1357.6" x2="239.8" y2="1357.6" stroke="#111" stroke-width="1.4" />
<rect x="214.9" y="1283.9" width="22.4" height="22.8" fill="#1e8c45" stroke="#0f5e2a" stroke-width="1"/>
<text x="226.1" y="1295.8" font-family="Liberation Sans" font-size="17" fill="#e8f6e8" font-weight="bold" text-anchor="middle" dominant-baseline="central" >A</text>
<path d="M141.5,1357 L141.5,1347 Q141.5,1333 157,1333 L187,1333 L187,1348 L160,1348 Q155.5,1348 155.5,1352 L155.5,1357" fill="#fff" stroke="#111" stroke-width="1.5"/>
<rect x="172" y="1331" width="4.6" height="19" fill="#fff" stroke="#111" stroke-width="1.3"/>
<path d="M188,1333.5 L215,1333.5 L213,1347.5 L188,1347.5Z" fill="#999" stroke="#111" stroke-width="1.3"/>
<line x1="160.0" y1="1333.0" x2="160.0" y2="1348.0" stroke="#111" stroke-width="1" />
<line x1="182.0" y1="1333.0" x2="182.0" y2="1348.0" stroke="#111" stroke-width="1" />
<rect x="340.8" y="1279.9" width="299.5" height="79.2" fill="#fff" stroke="#111" stroke-width="2.2"/>
<path d="M385.9,1296 L359.5,1343 L412.6,1343Z" fill="#f4e51c" stroke="#111" stroke-width="3.2" stroke-linejoin="round"/>
<path d="M378.5,1337 L378.5,1326 Q378.5,1317 386,1317 Q393.5,1317 393.5,1326 L393.5,1337" fill="none" stroke="#111" stroke-width="4.2"/>
<rect x="376.4" y="1333" width="4.2" height="5" fill="#fff" stroke="#111" stroke-width="0.8"/>
<rect x="391.4" y="1333" width="4.2" height="5" fill="#fff" stroke="#111" stroke-width="0.8"/>
<text x="434.5" y="1298.5" font-family="Liberation Sans" font-size="21" font-weight="bold" fill="#111" dominant-baseline="central" textLength="189.5" lengthAdjust="spacing">ATTENZIONE!</text>
<text x="433.0" y="1321.0" font-family="Liberation Sans" font-size="22" fill="#666" font-weight="normal" text-anchor="start" dominant-baseline="central" textLength="191" lengthAdjust="spacingAndGlyphs" >Può essere dannoso ai</text>
<text x="432.0" y="1340.3" font-family="Liberation Sans" font-size="22" fill="#666" font-weight="normal" text-anchor="start" dominant-baseline="central" textLength="193" lengthAdjust="spacingAndGlyphs" >portatori di pacemakers</text>
<text x="340.8" y="1394.3" font-family="Liberation Sans" font-size="20" fill="#666" font-weight="normal" text-anchor="start" dominant-baseline="central" textLength="63.6" lengthAdjust="spacingAndGlyphs" >Installare</text>
<text x="426.6" y="1394.3" font-family="Liberation Sans" font-size="20" fill="#666" font-weight="normal" text-anchor="start" dominant-baseline="central" textLength="8.3" lengthAdjust="spacingAndGlyphs" >a</text>
<text x="457.0" y="1394.3" font-family="Liberation Sans" font-size="20" fill="#666" font-weight="normal" text-anchor="start" dominant-baseline="central" textLength="45.7" lengthAdjust="spacingAndGlyphs" >monte</text>
<text x="524.8" y="1394.3" font-family="Liberation Sans" font-size="20" fill="#666" font-weight="normal" text-anchor="start" dominant-baseline="central" textLength="115.5" lengthAdjust="spacingAndGlyphs" >dell’apparecchio</text>
<text x="340.8" y="1419.2" font-family="Liberation Sans" font-size="20" fill="#666" font-weight="normal" text-anchor="start" dominant-baseline="central" textLength="16.6" lengthAdjust="spacingAndGlyphs" >un</text>
<text x="369.8" y="1419.2" font-family="Liberation Sans" font-size="20" fill="#666" font-weight="normal" text-anchor="start" dominant-baseline="central" textLength="83.1" lengthAdjust="spacingAndGlyphs" >interruttore</text>
<text x="465.3" y="1419.2" font-family="Liberation Sans" font-size="20" fill="#666" font-weight="normal" text-anchor="start" dominant-baseline="central" textLength="88.6" lengthAdjust="spacingAndGlyphs" >differenziale</text>
<text x="566.4" y="1419.2" font-family="Liberation Sans" font-size="20" fill="#666" font-weight="normal" text-anchor="start" dominant-baseline="central" textLength="15.2" lengthAdjust="spacingAndGlyphs" >da</text>
<text x="595.4" y="1419.2" font-family="Liberation Sans" font-size="20" fill="#666" font-weight="normal" text-anchor="start" dominant-baseline="central" textLength="44.9" lengthAdjust="spacingAndGlyphs" >30mA</text>
<text x="340.8" y="1444.1" font-family="Liberation Sans" font-size="20" fill="#666" font-weight="normal" text-anchor="start" dominant-baseline="central" textLength="66.4" lengthAdjust="spacingAndGlyphs" >provvisto</text>
<text x="416.9" y="1444.1" font-family="Liberation Sans" font-size="20" fill="#666" font-weight="normal" text-anchor="start" dominant-baseline="central" textLength="12.4" lengthAdjust="spacingAndGlyphs" >di</text>
<text x="439.0" y="1444.1" font-family="Liberation Sans" font-size="20" fill="#666" font-weight="normal" text-anchor="start" dominant-baseline="central" textLength="83.1" lengthAdjust="spacingAndGlyphs" >interruttore</text>
<text x="530.4" y="1444.1" font-family="Liberation Sans" font-size="20" fill="#666" font-weight="normal" text-anchor="start" dominant-baseline="central" textLength="73.3" lengthAdjust="spacingAndGlyphs" >onnipolare</text>
<text x="613.4" y="1444.1" font-family="Liberation Sans" font-size="20" fill="#666" font-weight="normal" text-anchor="start" dominant-baseline="central" textLength="26.9" lengthAdjust="spacingAndGlyphs" >con</text>
<text x="340.8" y="1468.6" font-family="Liberation Sans" font-size="20" fill="#666" font-weight="normal" text-anchor="start" dominant-baseline="central" textLength="258.8" lengthAdjust="spacingAndGlyphs" >apertura minima dei contatti ≥ 3 mm.</text>
<text x="744.8" y="1288.5" font-family="Liberation Sans" font-size="24" fill="#111" font-weight="bold" text-anchor="start" dominant-baseline="central" textLength="302" lengthAdjust="spacingAndGlyphs" >CARATTERISTICHE IDRAULICHE</text>
<text x="744.8" y="1317.0" font-family="Liberation Sans" font-size="23" fill="#555" font-weight="normal" text-anchor="start" dominant-baseline="central" textLength="198" lengthAdjust="spacingAndGlyphs" >6 bocchette whirlpool</text>
<text x="744.8" y="1346.5" font-family="Liberation Sans" font-size="23" fill="#555" font-weight="normal" text-anchor="start" dominant-baseline="central" textLength="321.7" lengthAdjust="spacingAndGlyphs" >Allaccio sifone con raccordo 1 1/2”</text>
<text x="1106.0" y="1288.5" font-family="Liberation Sans" font-size="24" fill="#111" font-weight="bold" text-anchor="start" dominant-baseline="central" textLength="302" lengthAdjust="spacingAndGlyphs" >CARATTERISTICHE ELETTRICHE</text>
<text x="1106.0" y="1317.0" font-family="Liberation Sans" font-size="23" fill="#555" font-weight="normal" text-anchor="start" dominant-baseline="central" textLength="188" lengthAdjust="spacingAndGlyphs" >Tensione 220-230 V</text>
<text x="1106.0" y="1346.5" font-family="Liberation Sans" font-size="23" fill="#555" font-weight="normal" text-anchor="start" dominant-baseline="central" textLength="151" lengthAdjust="spacingAndGlyphs" >Frequenza 50 Hz</text>
<text x="1106.0" y="1374.0" font-family="Liberation Sans" font-size="23" fill="#555" font-weight="normal" text-anchor="start" dominant-baseline="central" textLength="324" lengthAdjust="spacingAndGlyphs" >Potenza massima assorbita: 950 W</text>
<text x="1106.0" y="1401.5" font-family="Liberation Sans" font-size="23" fill="#555" font-weight="normal" text-anchor="start" dominant-baseline="central" textLength="156" lengthAdjust="spacingAndGlyphs" >Whirlpool: 550 W</text>
</svg></body></html>
